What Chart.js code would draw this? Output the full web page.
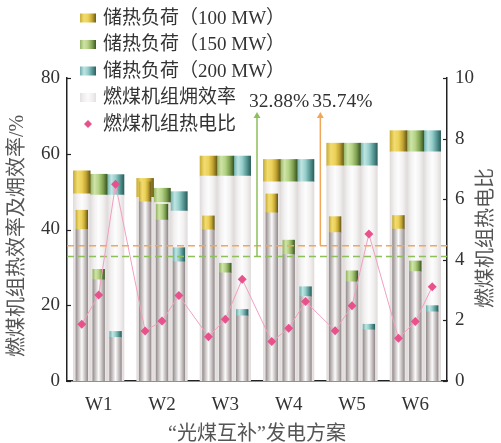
<!DOCTYPE html>
<html>
<head>
<meta charset="utf-8">
<script src="https://cdn.jsdelivr.net/npm/chart.js@4.4.1/dist/chart.umd.min.js"></script>
<style>
  html, body { margin: 0; padding: 0; background: #ffffff; }
  canvas { display: block; }
</style>
</head>
<body>
<canvas id="chart" width="501" height="443"></canvas>
<script>
// ---- data -------------------------------------------------------------
const schemes = ['W1', 'W2', 'W3', 'W4', 'W5', 'W6'];
const storageLoads = ['100 MW', '150 MW', '200 MW'];

// coal unit thermal efficiency (%): without storage / with storage load
const thermalBase100 = [49.4, 48.5, 54.1, 52.6, 56.8, 60.5];
const thermalTop100  = [55.5, 53.5, 59.4, 58.5, 62.8, 66.1];
const thermalBase150 = [49.1, 47.1, 54.1, 52.6, 56.8, 60.5];
const thermalTop150  = [54.6, 50.9, 59.4, 58.5, 62.8, 66.1];
const thermalBase200 = [49.1, 44.9, 54.1, 52.6, 56.8, 60.5];
const thermalTop200  = [54.5, 50.0, 59.4, 58.5, 62.8, 66.1];

// coal unit exergy efficiency (%): without storage / with storage load
const exergyBase100 = [40.0, 47.3, 39.9, 44.4, 39.2, 40.1];
const exergyTop100  = [45.1, 52.6, 43.6, 49.4, 43.4, 43.7];
const exergyBase150 = [26.7, 42.5, 28.6, 33.4, 26.2, 28.9];
const exergyTop150  = [29.5, 46.7, 31.1, 37.2, 29.1, 31.7];
const exergyBase200 = [11.5, 31.5, 17.2, 22.3, 13.5, 18.3];
const exergyTop200  = [13.1, 35.2, 18.9, 24.9, 15.0, 19.9];

// coal unit heat-to-power ratio
const ratio100 = [1.87, 1.65, 1.46, 1.30, 1.66, 1.41];
const ratio150 = [2.84, 1.98, 2.04, 1.74, 2.48, 1.96];
const ratio200 = [6.49, 2.82, 3.36, 2.62, 4.85, 3.11];

// reference efficiencies (%) and where their markers sit
const refValues = [32.88, 35.74];
const refMarkerAt = [3, 4];      // category boundary (W3|W4, W4|W5)
const refMarkerTop = 70;

const leftTicks = [0, 20, 40, 60, 80];
const rightTicks = [0, 2, 4, 6, 8, 10];

// ---- style ------------------------------------------------------------
const SERIF = '"Liberation Serif", "Noto Sans CJK SC", serif';
const TEXT = '#333333';
const TITLE = '#555555';
const AXIS = '#222222';
const GROUP_SPAN = 0.8;          // share of a category taken by its three bars

const capShades = [
  ['#c9ad38', '#f2dc70', '#ecd25a', '#c4a632', '#6a5c1c'],
  ['#94b566', '#cfe4a6', '#b4d286', '#82a452', '#3d5826'],
  ['#6fb0ad', '#bfe5e2', '#96cecb', '#5b9a97', '#2a5f5d']
];
const capColors = ['#e6cd5c', '#b5d288', '#98cfcb'];
const wideShade = ['#e1dcdc', '#f3f1f1', '#fdfdfd', '#f3f1f1', '#e1dcdc'];
const narrowShade = ['#978f8f', '#cbc5c5', '#fbfbfb', '#cbc5c5', '#978f8f'];
const refColors = ['#8dbf5a', '#f2a65a'];
const ratioPoint = '#e8528c';
const ratioLine = '#f2a0c0';

const thermalBase = [thermalBase100, thermalBase150, thermalBase200];
const thermalTop = [thermalTop100, thermalTop150, thermalTop200];
const exergyBase = [exergyBase100, exergyBase150, exergyBase200];
const exergyTop = [exergyTop100, exergyTop150, exergyTop200];
const ratios = [ratio100, ratio150, ratio200];

// position of bar k inside category j on the linear helper axis
const slotX = (j, k) => j + 0.5 + (k - 1) * GROUP_SPAN / 3;
const asPoints = (vals, k) => vals.map((v, j) => ({ x: slotX(j, k), y: v }));
const gains = (top, base) => top.map((v, j) => +(v - base[j]).toFixed(2));

// ---- datasets ---------------------------------------------------------
const datasets = [];
storageLoads.forEach((load, k) => {
  // wide bars: thermal efficiency with storage gain on top
  datasets.push({
    type: 'bar', label: '热效率 ' + load, xAxisID: 'xl', yAxisID: 'y', stack: 't' + k,
    data: asPoints(thermalBase[k], k), backgroundColor: '#f4f2f2', shade: wideShade,
    grouped: false, barPercentage: 1, categoryPercentage: 1, order: 4
  });
  datasets.push({
    type: 'bar', label: '储热负荷（' + load + '）', legendBox: true, xAxisID: 'xl', yAxisID: 'y', stack: 't' + k,
    data: asPoints(gains(thermalTop[k], thermalBase[k]), k),
    backgroundColor: capColors[k], shade: capShades[k],
    grouped: false, barPercentage: 1, categoryPercentage: 1, order: 4
  });
  // narrow bars: exergy efficiency with storage gain on top
  datasets.push({
    type: 'bar', label: '㶲效率 ' + load, xAxisID: 'xl', yAxisID: 'y', stack: 'e' + k,
    data: asPoints(exergyBase[k], k), backgroundColor: '#e2dddd', shade: narrowShade,
    grouped: false, barPercentage: 0.7, categoryPercentage: 1, order: 3
  });
  datasets.push({
    type: 'bar', label: '㶲效率增量 ' + load, xAxisID: 'xl', yAxisID: 'y', stack: 'e' + k,
    data: asPoints(gains(exergyTop[k], exergyBase[k]), k),
    backgroundColor: capColors[k], shade: capShades[k],
    grouped: false, barPercentage: 0.7, categoryPercentage: 1, order: 3
  });
});

// reference levels: dashed lines across the plot plus upward arrows
refValues.forEach((v, i) => {
  datasets.push({
    type: 'line', label: 'ref' + i, xAxisID: 'xl', yAxisID: 'y', stack: 'ref' + i,
    data: [{ x: 0, y: v }, { x: schemes.length, y: v }],
    borderColor: refColors[i], borderWidth: 1.5, borderDash: [7, 4],
    pointRadius: 0, order: 2
  });
  datasets.push({
    type: 'line', label: 'arrow' + i, refLabel: v.toFixed(2) + '%', xAxisID: 'xl', yAxisID: 'y', stack: 'arrow' + i,
    data: [{ x: refMarkerAt[i], y: v }, { x: refMarkerAt[i], y: refMarkerTop }],
    borderColor: refColors[i], borderWidth: 1.5,
    pointRadius: [0, 4], pointStyle: 'triangle',
    pointBackgroundColor: refColors[i], pointBorderWidth: 0, order: 2
  });
});

// heat-to-power ratio: one point per bar, joined across schemes
const ratioPoints = [];
schemes.forEach((s, j) => {
  ratios.forEach((r, k) => ratioPoints.push({ x: slotX(j, k), y: r[j] }));
});
datasets.push({
  type: 'line', label: '燃煤机组热电比', xAxisID: 'xl', yAxisID: 'y1',
  data: ratioPoints, borderColor: ratioLine, borderWidth: 1,
  pointStyle: 'rectRot', pointRadius: 4.5, pointBackgroundColor: ratioPoint,
  pointBorderWidth: 0, order: 0
});

// ---- plugins ----------------------------------------------------------
const cylinderShade = {
  id: 'cylinderShade',
  beforeDatasetsDraw(chart) {
    const ctx = chart.ctx;
    chart.data.datasets.forEach((ds, i) => {
      if (!ds.shade) return;
      chart.getDatasetMeta(i).data.forEach(el => {
        const { x, width } = el.getProps(['x', 'width'], true);
        const g = ctx.createLinearGradient(x - width / 2, 0, x + width / 2, 0);
        ds.shade.forEach((c, n) => g.addColorStop(n / (ds.shade.length - 1), c));
        el.options = Object.assign({}, el.options, { backgroundColor: g });
      });
    });
  }
};

const decorations = {
  id: 'decorations',
  afterDraw(chart) {
    const ctx = chart.ctx;
    const { left, right } = chart.chartArea;
    const y = chart.scales.y, y1 = chart.scales.y1, xl = chart.scales.xl;
    ctx.save();

    // inward tick marks
    ctx.strokeStyle = AXIS;
    ctx.lineWidth = 1.2;
    leftTicks.forEach(v => {
      const py = Math.round(y.getPixelForValue(v)) + 0.5;
      ctx.beginPath(); ctx.moveTo(left, py); ctx.lineTo(left + 4, py); ctx.stroke();
    });
    rightTicks.forEach(v => {
      const py = Math.round(y1.getPixelForValue(v)) + 0.5;
      ctx.beginPath(); ctx.moveTo(right, py); ctx.lineTo(right - 4, py); ctx.stroke();
    });

    // reference value labels above the arrows
    ctx.fillStyle = TEXT;
    ctx.font = '19.5px ' + SERIF;
    ctx.textAlign = 'left';
    ctx.textBaseline = 'middle';
    chart.data.datasets.forEach(ds => {
      if (!ds.refLabel) return;
      const px = xl.getPixelForValue(ds.data[0].x);
      const py = y.getPixelForValue(ds.data[1].y);
      ctx.fillText(ds.refLabel, px - 8, py - 14);
    });

    // axis titles
    ctx.fillStyle = TITLE;
    ctx.textAlign = 'center';
    ctx.font = '20px ' + SERIF;
    ctx.save();
    ctx.translate(18, 236);
    ctx.rotate(-Math.PI / 2);
    ctx.fillText('燃煤机组热效率及㶲效率/%', 0, 0);
    ctx.restore();
    ctx.save();
    ctx.translate(487, 238);
    ctx.rotate(-Math.PI / 2);
    ctx.fillText('燃煤机组热电比', 0, 0);
    ctx.restore();
    ctx.fillText('“光煤互补”发电方案', (left + right) / 2, 435);

    // legend
    const rows = [];
    chart.data.datasets.forEach(ds => {
      if (ds.legendBox) rows.push({ label: ds.label, shade: ds.shade });
    });
    rows.push({ label: '燃煤机组㶲效率', shade: ['#e4e0e0', '#f2f0f0', '#fafafa', '#f2f0f0', '#e4e0e0'] });
    rows.push({ label: '燃煤机组热电比', diamond: ratioPoint });
    ctx.font = '19px ' + SERIF;
    ctx.textAlign = 'left';
    rows.forEach((r, i) => {
      const cy = 18 + i * 26.5;
      if (r.diamond) {
        ctx.fillStyle = r.diamond;
        ctx.beginPath();
        ctx.moveTo(88, cy - 4); ctx.lineTo(92, cy); ctx.lineTo(88, cy + 4); ctx.lineTo(84, cy);
        ctx.closePath(); ctx.fill();
      } else {
        const g = ctx.createLinearGradient(80, 0, 96, 0);
        r.shade.forEach((c, n) => g.addColorStop(n / (r.shade.length - 1), c));
        ctx.fillStyle = g;
        ctx.fillRect(80, cy - 4.5, 16, 9);
      }
      ctx.fillStyle = TEXT;
      ctx.fillText(r.label, 103, cy + 1);
    });
    ctx.restore();
  }
};

// ---- chart ------------------------------------------------------------
new Chart(document.getElementById('chart'), {
  data: { labels: schemes, datasets },
  options: {
    responsive: false,
    animation: false,
    layout: { padding: { top: 78, left: 0, right: 0, bottom: 0 } },
    datasets: { bar: { inflateAmount: 0.3, borderWidth: 0 } },
    plugins: { legend: { display: false }, tooltip: { enabled: false } },
    scales: {
      x: {
        type: 'category', offset: true,
        grid: { display: false, drawTicks: false },
        border: { display: true, color: AXIS, width: 1.5 },
        ticks: { font: { family: SERIF, size: 19 }, color: TEXT, padding: 13 },
        afterFit: s => { s.height = 443 - 381; }
      },
      xl: { type: 'linear', axis: 'x', min: 0, max: schemes.length, offset: false, display: false },
      y: {
        position: 'left', min: 0, max: 80,
        grid: { display: false, drawTicks: false },
        border: { display: true, color: AXIS, width: 1.5 },
        ticks: { font: { family: SERIF, size: 19 }, color: TEXT, padding: 7 },
        afterBuildTicks: s => { s.ticks = leftTicks.map(v => ({ value: v })); },
        afterFit: s => { s.width = 67; }
      },
      y1: {
        position: 'right', min: 0, max: 10,
        grid: { display: false, drawTicks: false },
        border: { display: true, color: AXIS, width: 1.5 },
        ticks: { font: { family: SERIF, size: 19 }, color: TEXT, padding: 8 },
        afterBuildTicks: s => { s.ticks = rightTicks.map(v => ({ value: v })); },
        afterFit: s => { s.width = 501 - 447; }
      }
    }
  },
  plugins: [cylinderShade, decorations]
});
</script>
</body>
</html>
